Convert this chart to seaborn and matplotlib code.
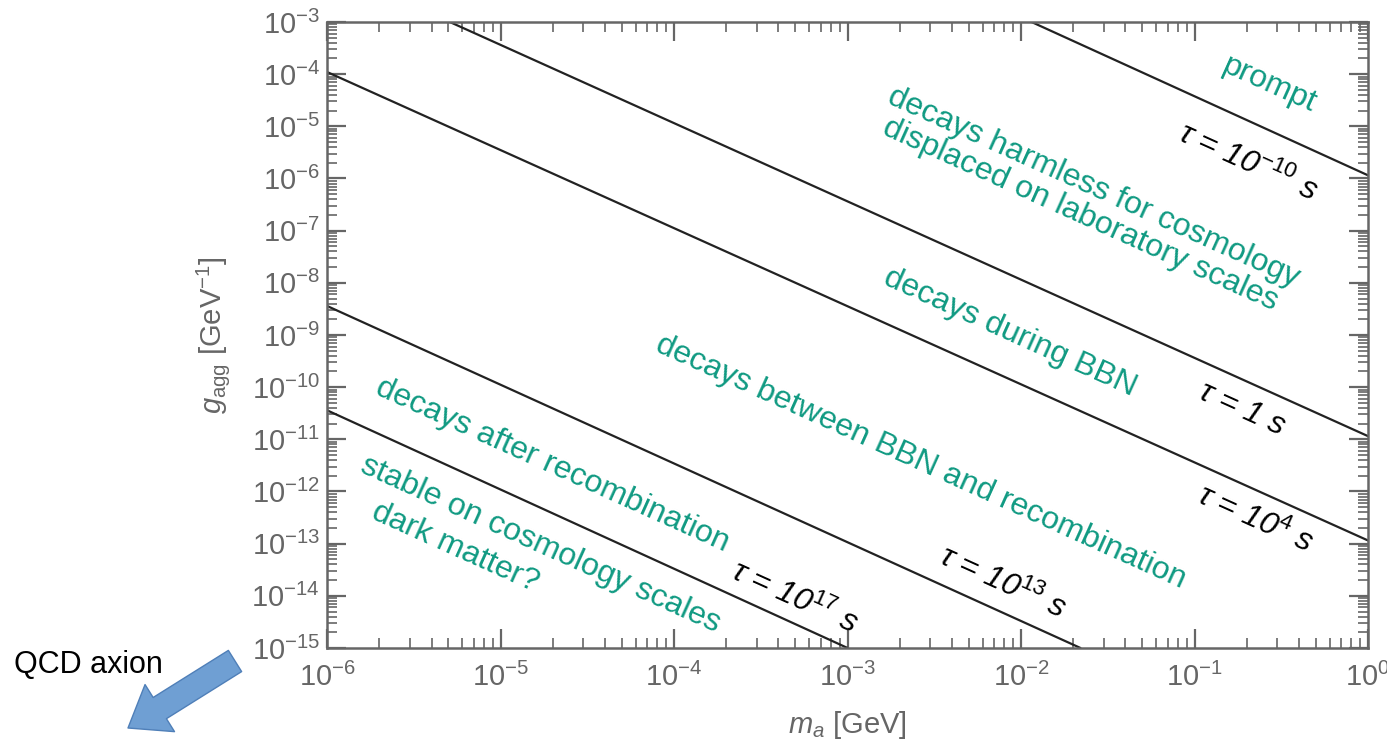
import numpy as np
import pandas as pd
import matplotlib
matplotlib.use('Agg')
import matplotlib.pyplot as plt
import seaborn as sns
from matplotlib.patches import FancyArrowPatch

# lifetime lines: visible end points (m in GeV, g in GeV^-1)
tau_names = ['1e-10', '1', '1e4', '1e13', '1e17']
m_start = [1.15e-2, 5.1e-6, 1e-6, 1e-6, 1e-6]
m_end = [1.0, 1.0, 1.0, 2.2e-2, 1.0e-3]
g_start = [1e-3, 1e-3, 1.1e-4, 3.6e-9, 3.6e-11]
g_end = [1.15e-6, 1.15e-11, 1.15e-13, 1e-15, 1e-15]

# region labels (green) and lifetime labels (black)
region_texts = ['prompt',
                'decays harmless for cosmology\ndisplaced on laboratory scales',
                'decays during BBN',
                'decays between BBN and recombination',
                'decays after recombination',
                'stable on cosmology scales',
                'dark matter?']
region_logm = [-0.565, -1.62, -2.063, -2.576, -4.703, -4.767, -5.262]
region_logg = [-4.21, -6.43, -8.96, -11.43, -11.49, -13.02, -13.08]

tau_texts = [r'τ = 10$^{\mathit{-10}}$ s', 'τ = 1 s', r'τ = 10$^{\mathit{4}}$ s',
             r'τ = 10$^{\mathit{13}}$ s', r'τ = 10$^{\mathit{17}}$ s']
tau_logm = [-0.692, -0.726, -0.651, -2.104, -3.308]
tau_logg = [-5.70, -10.43, -12.54, -13.77, -14.05]

sns.set_style('ticks')
plt.rcParams['font.family'] = ['Liberation Sans', 'DejaVu Sans']
plt.rcParams['mathtext.fontset'] = 'custom'
plt.rcParams['mathtext.rm'] = 'Liberation Sans'
plt.rcParams['mathtext.it'] = 'Liberation Sans:italic'
plt.rcParams['mathtext.bf'] = 'Liberation Sans:bold'

gray = '#666666'
green = '#109a82'

fig = plt.figure(figsize=(13.87, 7.43), dpi=100)
fig.subplots_adjust(left=0.2358, right=0.9863, bottom=0.1279, top=0.9704)
ax = fig.add_subplot(111)

lines = pd.DataFrame({
    'tau': np.repeat(tau_names, 2),
    'm': np.ravel(np.column_stack([m_start, m_end])),
    'g': np.ravel(np.column_stack([g_start, g_end])),
})
sns.lineplot(data=lines, x='m', y='g', units='tau', estimator=None,
             color='#222222', linewidth=1.6, sort=False, ax=ax)

ax.set_xscale('log')
ax.set_yscale('log')
ax.set_xlim(1e-6, 1)
ax.set_ylim(1e-15, 1e-3)
ax.set_xticks([10.0**k for k in range(-6, 1)])
ax.set_yticks([10.0**k for k in range(-15, -2)])
ax.xaxis.set_minor_locator(matplotlib.ticker.LogLocator(base=10, subs=np.arange(2, 10), numticks=50))
ax.yaxis.set_minor_locator(matplotlib.ticker.LogLocator(base=10, subs=np.arange(2, 10), numticks=50))
ax.xaxis.set_minor_formatter(matplotlib.ticker.NullFormatter())
ax.yaxis.set_minor_formatter(matplotlib.ticker.NullFormatter())

ax.tick_params(which='both', direction='in', top=True, right=True,
               color=gray, labelcolor=gray, labelsize=21)
ax.tick_params(which='major', length=14, width=1.6)
ax.tick_params(which='minor', length=7, width=1.2)
ax.tick_params(axis='x', which='major', pad=11)
ax.tick_params(axis='y', which='major', pad=5)
for s in ax.spines.values():
    s.set_color(gray)
    s.set_linewidth(1.8)

ax.set_xlabel(r'$m_a$ [GeV]', color=gray, fontsize=21, labelpad=12)
ax.set_ylabel(r'$g_{\mathrm{agg}}$ [GeV$^{-1}$]', color=gray, fontsize=21, labelpad=14)

# text angle follows the lifetime lines on screen
p1 = ax.transData.transform((1e-6, 1e-6))
p2 = ax.transData.transform((1e-4, 1e-9))
angle = np.degrees(np.arctan2(p2[1] - p1[1], p2[0] - p1[0]))

for txt, lm, lg in zip(region_texts, region_logm, region_logg):
    ax.text(10**lm, 10**lg, txt, color=green, fontsize=23, rotation=angle,
            rotation_mode='anchor', ha='center', va='center',
            multialignment='center', linespacing=1.0)

for txt, lm, lg in zip(tau_texts, tau_logm, tau_logg):
    ax.text(10**lm, 10**lg, txt, color='black', fontsize=23, style='italic',
            rotation=angle, rotation_mode='anchor', ha='center', va='center')

# QCD axion pointer outside the axes
fig.text(88 / 1387, 1 - 665 / 743, 'QCD axion', fontsize=22, color='black',
         ha='center', va='center')
arrow = FancyArrowPatch((2.35, 0.82), (1.28, 0.15), transform=fig.dpi_scale_trans,
                        arrowstyle='simple,head_length=27,head_width=40,tail_width=18',
                        mutation_scale=1, shrinkA=0, shrinkB=0,
                        facecolor='#6f9fd3', edgecolor='#4f7fb8', linewidth=1)
fig.add_artist(arrow)

fig.savefig('out.png', dpi=100)
